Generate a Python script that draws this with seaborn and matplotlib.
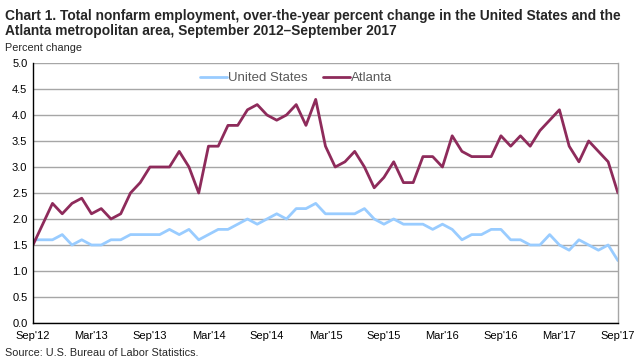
import numpy as np
import pandas as pd
import matplotlib
matplotlib.use('Agg')
import matplotlib.pyplot as plt
import seaborn as sns

# monthly values, Sep 2012 - Sep 2017
us_values = [1.6, 1.6, 1.6, 1.7, 1.5, 1.6, 1.5, 1.5, 1.6, 1.6,
             1.7, 1.7, 1.7, 1.7, 1.8, 1.7, 1.8, 1.6, 1.7, 1.8,
             1.8, 1.9, 2.0, 1.9, 2.0, 2.1, 2.0, 2.2, 2.2, 2.3,
             2.1, 2.1, 2.1, 2.1, 2.2, 2.0, 1.9, 2.0, 1.9, 1.9,
             1.9, 1.8, 1.9, 1.8, 1.6, 1.7, 1.7, 1.8, 1.8, 1.6,
             1.6, 1.5, 1.5, 1.7, 1.5, 1.4, 1.6, 1.5, 1.4, 1.5,
             1.2]
atlanta_values = [1.5, 1.9, 2.3, 2.1, 2.3, 2.4, 2.1, 2.2, 2.0, 2.1,
                  2.5, 2.7, 3.0, 3.0, 3.0, 3.3, 3.0, 2.5, 3.4, 3.4,
                  3.8, 3.8, 4.1, 4.2, 4.0, 3.9, 4.0, 4.2, 3.8, 4.3,
                  3.4, 3.0, 3.1, 3.3, 3.0, 2.6, 2.8, 3.1, 2.7, 2.7,
                  3.2, 3.2, 3.0, 3.6, 3.3, 3.2, 3.2, 3.2, 3.6, 3.4,
                  3.6, 3.4, 3.7, 3.9, 4.1, 3.4, 3.1, 3.5, 3.3, 3.1,
                  2.5]
tick_labels = ["Sep'12", "Mar'13", "Sep'13", "Mar'14", "Sep'14", "Mar'15",
               "Sep'15", "Mar'16", "Sep'16", "Mar'17", "Sep'17"]

months = np.arange(len(us_values))
df = pd.DataFrame({
    'month': np.concatenate([months, months]),
    'value': us_values + atlanta_values,
    'series': ['United States'] * len(us_values) + ['Atlanta'] * len(atlanta_values),
})

sns.set_theme(style="white")
plt.rcParams['font.family'] = ['Liberation Sans', 'DejaVu Sans']

fig = plt.figure(figsize=(6.43, 3.61), dpi=100)
ax = fig.add_axes([0.0513, 0.1053, 0.9097, 0.7202])

palette = {'United States': '#99ccff', 'Atlanta': '#8e2b5b'}
sns.lineplot(data=df, x='month', y='value', hue='series', palette=palette,
             linewidth=2, ax=ax)

ax.set_xlim(0, 60)
ax.set_ylim(0, 5)
ax.set_xticks(np.arange(0, 61, 6))
ax.set_xticklabels(tick_labels)
ax.set_yticks(np.arange(0, 5.01, 0.5))
ax.set_yticklabels([f'{v:.1f}' for v in np.arange(0, 5.01, 0.5)])
ax.tick_params(axis='both', labelsize=8, length=0, colors='black')
ax.tick_params(axis='x', pad=6)
ax.tick_params(axis='y', pad=4)
ax.set_xlabel('')
ax.set_ylabel('')
ax.yaxis.grid(True, color='#a6a6a6', linewidth=1)
ax.set_axisbelow(True)
for side in ['top', 'right']:
    ax.spines[side].set_color('#a6a6a6')
    ax.spines[side].set_linewidth(1)
for side in ['left', 'bottom']:
    ax.spines[side].set_color('black')
    ax.spines[side].set_linewidth(1)
ax.spines['top'].set_visible(False)

leg = ax.legend(loc='upper center', bbox_to_anchor=(0.45, 1.0), ncol=2, frameon=False,
                fontsize=9.5, handlelength=2.0, handletextpad=0.1, columnspacing=1.2,
                borderaxespad=0.3)
for t in leg.get_texts():
    t.set_color('#595959')

fig.text(0.008, 0.975, 'Chart 1. Total nonfarm employment, over-the-year percent change in the United States and the\n'
         'Atlanta metropolitan area, September 2012\u2013September 2017',
         fontsize=9.9, fontweight='bold', va='top', ha='left', linespacing=1.1)
fig.text(0.008, 0.868, 'Percent change', fontsize=7.8, va='center', ha='left')
fig.text(0.008, 0.022, 'Source: U.S. Bureau of Labor Statistics.', fontsize=7.8, va='center', ha='left')

plt.savefig('out.png', dpi=100)
